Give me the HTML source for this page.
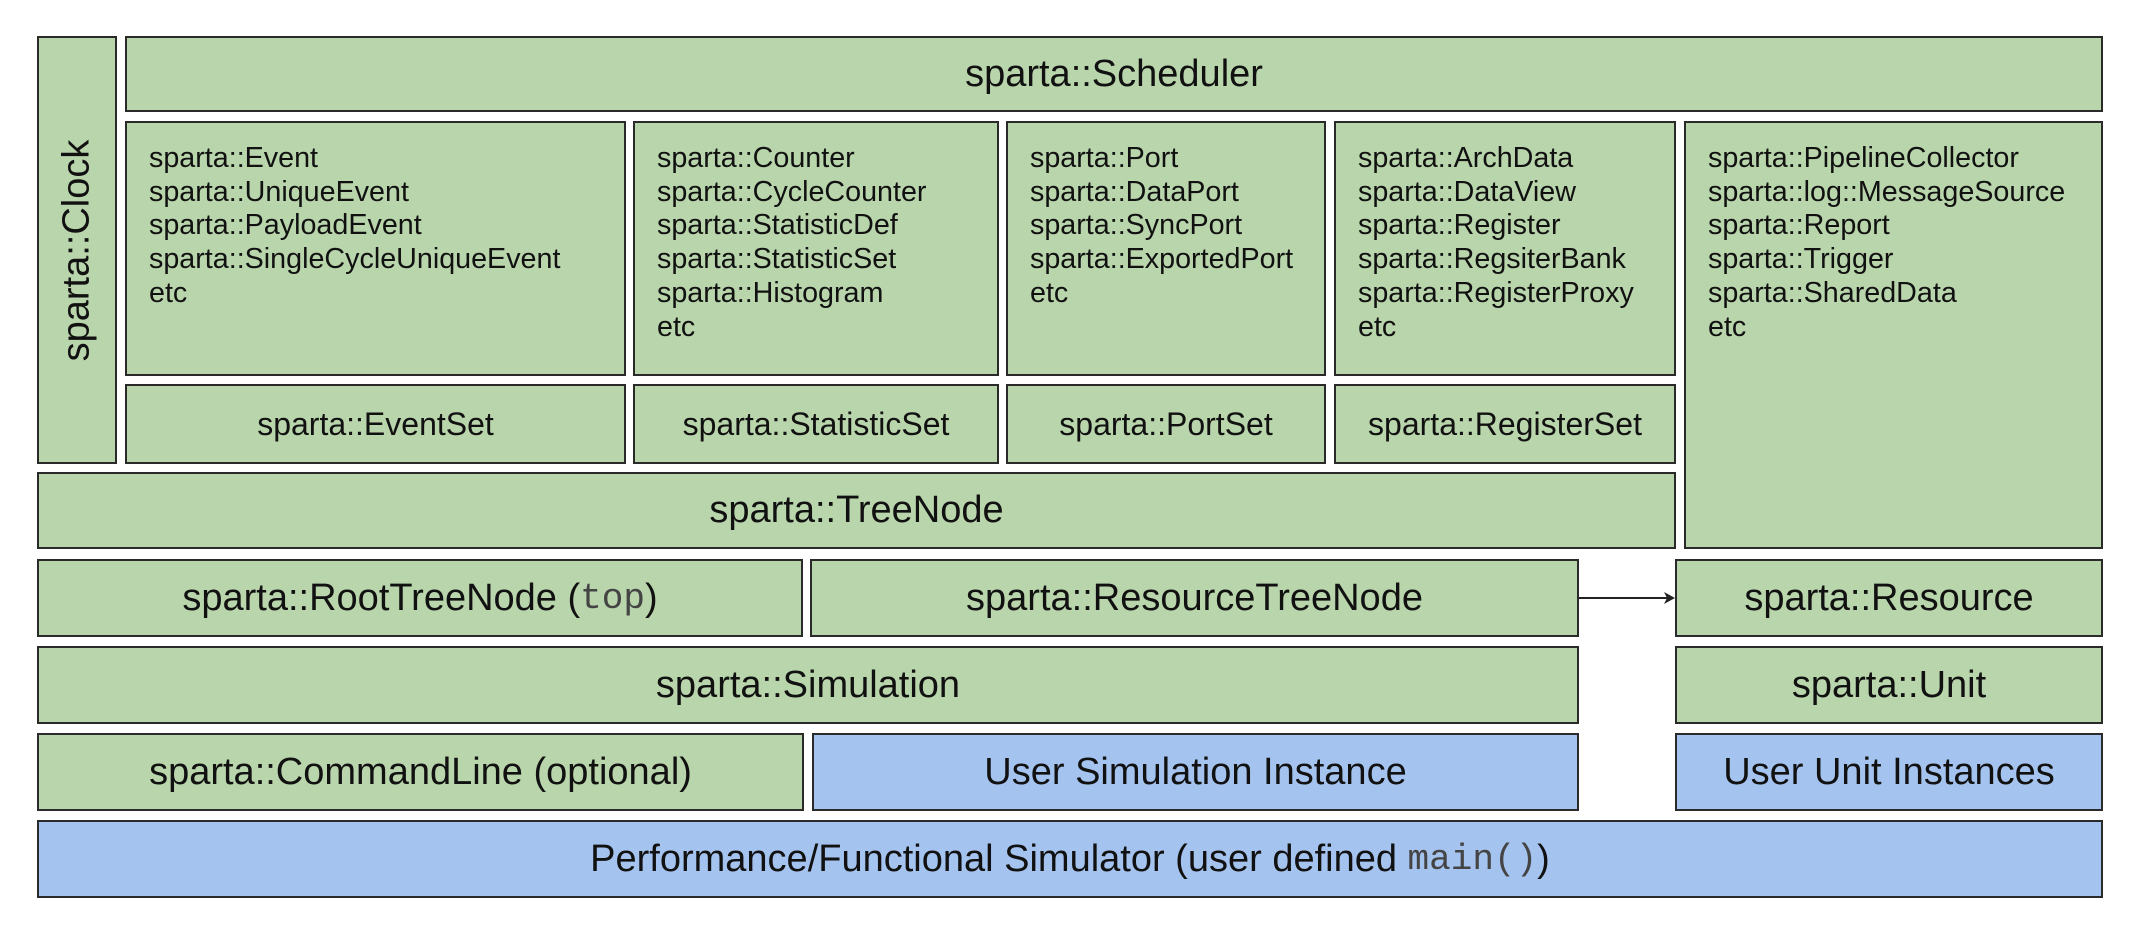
<!DOCTYPE html>
<html><head><meta charset="utf-8"><style>
body{margin:0;width:2150px;height:926px;background:#fff;position:relative;overflow:hidden;font-family:"Liberation Sans",Arial,sans-serif;color:#111}
.b{position:absolute;box-sizing:border-box;border:2px solid #2a2a2a;background:#b9d5ab;display:flex;align-items:center;justify-content:center;font-size:38px;white-space:nowrap}
.u{background:#a5c3ef}
.l{display:block;font-size:28.7px;line-height:33.7px;padding:19px 0 0 22px}
.s{font-size:32px}
.m{font-family:"Liberation Mono",monospace;font-size:36px;color:#444}
</style></head><body>
<div class="b" style="left:37px;top:36px;width:80px;height:428px"><span style="transform:rotate(-90deg);display:inline-block">sparta::Clock</span></div>
<div class="b" style="left:125px;top:36px;width:1978px;height:76px">sparta::Scheduler</div>
<div class="b l" style="left:125px;top:121px;width:501px;height:255px">sparta::Event<br>sparta::UniqueEvent<br>sparta::PayloadEvent<br>sparta::SingleCycleUniqueEvent<br>etc</div>
<div class="b l" style="left:633px;top:121px;width:366px;height:255px">sparta::Counter<br>sparta::CycleCounter<br>sparta::StatisticDef<br>sparta::StatisticSet<br>sparta::Histogram<br>etc</div>
<div class="b l" style="left:1006px;top:121px;width:320px;height:255px">sparta::Port<br>sparta::DataPort<br>sparta::SyncPort<br>sparta::ExportedPort<br>etc</div>
<div class="b l" style="left:1334px;top:121px;width:342px;height:255px">sparta::ArchData<br>sparta::DataView<br>sparta::Register<br>sparta::RegsiterBank<br>sparta::RegisterProxy<br>etc</div>
<div class="b l" style="left:1684px;top:121px;width:419px;height:428px">sparta::PipelineCollector<br>sparta::log::MessageSource<br>sparta::Report<br>sparta::Trigger<br>sparta::SharedData<br>etc</div>
<div class="b s" style="left:125px;top:384px;width:501px;height:80px">sparta::EventSet</div>
<div class="b s" style="left:633px;top:384px;width:366px;height:80px">sparta::StatisticSet</div>
<div class="b s" style="left:1006px;top:384px;width:320px;height:80px">sparta::PortSet</div>
<div class="b s" style="left:1334px;top:384px;width:342px;height:80px">sparta::RegisterSet</div>
<div class="b" style="left:37px;top:472px;width:1639px;height:77px">sparta::TreeNode</div>
<div class="b" style="left:37px;top:559px;width:766px;height:78px">sparta::RootTreeNode (<span class="m">top</span>)</div>
<div class="b" style="left:810px;top:559px;width:769px;height:78px">sparta::ResourceTreeNode</div>
<div class="b" style="left:1675px;top:559px;width:428px;height:78px">sparta::Resource</div>
<div class="b" style="left:37px;top:646px;width:1542px;height:78px">sparta::Simulation</div>
<div class="b" style="left:1675px;top:646px;width:428px;height:78px">sparta::Unit</div>
<div class="b" style="left:37px;top:733px;width:767px;height:78px">sparta::CommandLine (optional)</div>
<div class="b u" style="left:812px;top:733px;width:767px;height:78px">User Simulation Instance</div>
<div class="b u" style="left:1675px;top:733px;width:428px;height:78px">User Unit Instances</div>
<div class="b u" style="left:37px;top:820px;width:2066px;height:78px">Performance/Functional Simulator (user defined&nbsp;<span class="m">main()</span>)</div>
<svg style="position:absolute;left:0;top:0" width="2150" height="926"><line x1="1579" y1="598" x2="1668" y2="598" stroke="#222" stroke-width="2"/><path d="M1675 598 L1664 592 L1667 598 L1664 604 Z" fill="#222"/></svg>
</body></html>
